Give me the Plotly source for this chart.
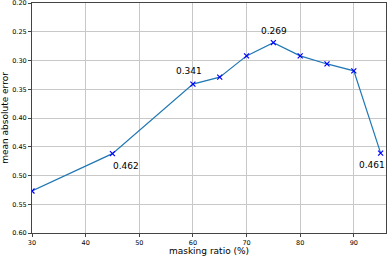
import plotly.graph_objects as go

ratios = [30, 45, 60, 65, 70, 75, 80, 85, 90, 95]
mae = [0.527, 0.462, 0.341, 0.329, 0.292, 0.269, 0.292, 0.306, 0.318, 0.461]
x_ticks = [30, 40, 50, 60, 70, 80, 90]
y_ticks = [0.20, 0.25, 0.30, 0.35, 0.40, 0.45, 0.50, 0.55, 0.60]

labels = [(45, 0.462, "0.462", 14, -12), (60, 0.341, "0.341", -4, 13),
          (75, 0.269, "0.269", 1, 12), (95, 0.461, "0.461", -9, -12)]

fig = go.Figure()
fig.add_trace(go.Scatter(
    x=ratios, y=mae, mode="lines+markers",
    line=dict(color="#1f77b4", width=1.2),
    marker=dict(symbol="x-thin", size=5, color="blue", line=dict(color="blue", width=1.2)),
    showlegend=False))

for xv, yv, t, dx, dy in labels:
    fig.add_annotation(x=xv, y=yv, text=t, showarrow=False, xref="x", yref="y",
                       xshift=dx, yshift=dy, font=dict(size=9, color="black"))

axis_common = dict(showline=True, linecolor="#444", linewidth=1, mirror=True,
                   showgrid=True, gridcolor="#c8c8c8", gridwidth=1,
                   ticks="outside", ticklen=3, tickcolor="#444",
                   tickfont=dict(size=6.5, color="black", family="DejaVu Sans"),
                   zeroline=False, automargin=False, ticklabeloverflow="allow")

fig.update_xaxes(range=[30, 96], tickvals=x_ticks,
                 title=dict(text="masking ratio (%)", font=dict(size=9, family="DejaVu Sans", color="black"), standoff=3),
                 **axis_common)
fig.update_yaxes(range=[0.60, 0.20], tickvals=y_ticks, ticktext=[f"{v:.2f}" for v in y_ticks],
                 title=dict(text="mean absolute error", font=dict(size=9, family="DejaVu Sans", color="black"), standoff=3),
                 **axis_common)

fig.update_layout(width=390, height=256, margin=dict(l=32, r=4, t=3, b=23),
                  plot_bgcolor="white", paper_bgcolor="white",
                  font=dict(family="DejaVu Sans"))

fig.write_html("out.html", config={"displayModeBar": False},
               post_script="document.body.style.margin='0';document.body.style.overflow='hidden';")
